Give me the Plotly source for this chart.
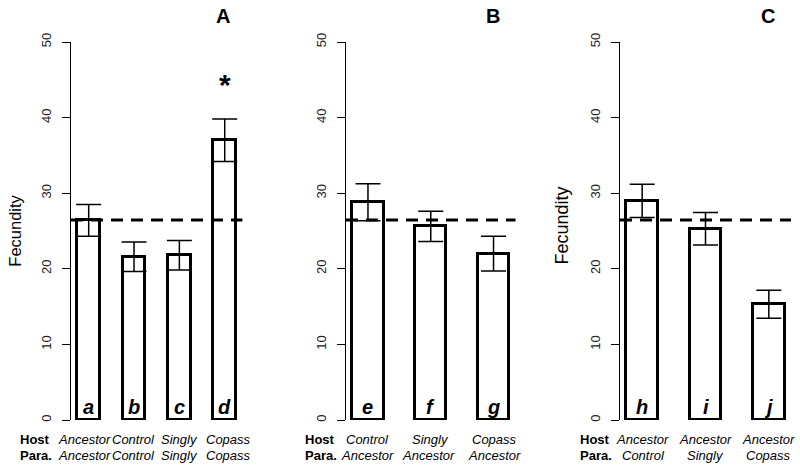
import plotly.graph_objects as go

FONT = "Liberation Sans, Arial, sans-serif"
W, H = 800, 467

# ---- data ----
panels = ["A", "B", "C"]
letters_A = ["a", "b", "c", "d"]
letters_B = ["e", "f", "g"]
letters_C = ["h", "i", "j"]
mean_A = [26.4, 21.6, 21.8, 37.0]
se_A = [2.1, 1.95, 1.95, 2.8]
mean_B = [28.8, 25.6, 22.0]
se_B = [2.45, 2.0, 2.3]
mean_C = [29.0, 25.3, 15.3]
se_C = [2.2, 2.15, 1.85]
host_A = ["Ancestor", "Control", "Singly", "Copass"]
para_A = ["Ancestor", "Control", "Singly", "Copass"]
host_B = ["Control", "Singly", "Copass"]
para_B = ["Ancestor", "Ancestor", "Ancestor"]
host_C = ["Ancestor", "Ancestor", "Ancestor"]
para_C = ["Control", "Singly", "Copass"]
ancestor_level = 26.45
y_ticks = [0, 10, 20, 30, 40, 50]
signif_A = ["", "", "", "*"]

# ---- layout geometry (pixels) ----
def px(x):
    return x / W

def py(y):
    return (H - y) / H

ydom = [py(420), py(42)]
xdoms = [[px(71), px(242.4)], [px(346), px(515.5)], [px(620), px(791)]]
xranges = [[0.72, 8.28], [0.8, 6.2], [0.8, 6.2]]

means = [mean_A, mean_B, mean_C]
ses = [se_A, se_B, se_C]
letters = [letters_A, letters_B, letters_C]
hosts = [host_A, host_B, host_C]
paras = [para_A, para_B, para_C]
host_px = [[84, 133, 179.5, 228.5], [367.5, 431, 494], [642, 705.3, 768]]
para_px = [[84, 133, 179.5, 228.5], [367.5, 428, 494], [643, 705.5, 768]]
hostlab_px = [35, 320, 595]
title_px = [223, 493, 768]
fec_px = [(15, 230.7, 16.5), None, (561.5, 226, 18)]


def txt(x, y, text, size, xref="paper", yref="paper", angle=0):
    return dict(x=x, y=y, xref=xref, yref=yref, text=text, showarrow=False,
                xanchor="center", yanchor="middle", textangle=angle,
                font=dict(family=FONT, size=size, color="black"))


fig = go.Figure()
annotations = []
shapes = []

for k in range(3):
    xa = "x" if k == 0 else f"x{k+1}"
    ya = "y" if k == 0 else f"y{k+1}"
    xs = [1.5 + 2 * i for i in range(len(means[k]))]
    fig.add_trace(go.Bar(
        x=xs, y=means[k], width=1, xaxis=xa, yaxis=ya,
        marker=dict(color="white", line=dict(color="black", width=3)),
        error_y=dict(type="data", array=ses[k], symmetric=True,
                     color="black", thickness=1.5, width=12.5),
        showlegend=False, hoverinfo="y",
    ))
    shapes.append(dict(type="line", xref=f"{xa} domain", yref=ya,
                       x0=0, x1=1, y0=ancestor_level, y1=ancestor_level,
                       line=dict(color="black", width=3, dash="12px,8px"),
                       layer="above"))
    for xv, lt in zip(xs, letters[k]):
        annotations.append(txt(xv, 1.7, f"<b><i>{lt}</i></b>", 20, xref=xa, yref=ya))
    for hp, t in zip(host_px[k], hosts[k]):
        annotations.append(txt(px(hp), py(439.5), f"<i>{t}</i>", 13))
    for pp, t in zip(para_px[k], paras[k]):
        annotations.append(txt(px(pp), py(455.5), f"<i>{t}</i>", 13))
    annotations.append(txt(px(hostlab_px[k]), py(439.5), "<b>Host</b>", 13))
    annotations.append(txt(px(hostlab_px[k] + 1), py(455.5), "<b>Para.</b>", 13))
    annotations.append(txt(px(title_px[k]), py(15.5), f"<b>{panels[k]}</b>", 20))
    if fec_px[k] is not None:
        fx, fy, fs = fec_px[k]
        annotations.append(txt(px(fx), py(fy), "Fecundity", fs, angle=-90))

    ax_x = dict(domain=xdoms[k], range=xranges[k], visible=False, anchor=ya,
                automargin=False, fixedrange=True)
    ax_y = dict(domain=ydom, range=[0, 50], anchor=xa, showline=True, linecolor="black",
                linewidth=1.3, ticks="outside", ticklen=8, tickwidth=1.3, tickcolor="black",
                tickvals=y_ticks, tickangle=-90, showgrid=False, zeroline=False,
                automargin=False, fixedrange=True,
                tickfont=dict(family=FONT, size=13, color="#222"), ticklabelstandoff=6)
    fig.update_layout(**{("xaxis" if k == 0 else f"xaxis{k+1}"): ax_x,
                         ("yaxis" if k == 0 else f"yaxis{k+1}"): ax_y})

xsA = [1.5 + 2 * i for i in range(len(mean_A))]
for xv, s in zip(xsA, signif_A):
    if s:
        annotations.append(txt(xv, 44.4, f"<b>{s}</b>", 30, xref="x", yref="y"))

fig.update_layout(template="none", width=W, height=H, autosize=False,
                  margin=dict(l=0, r=0, t=0, b=0, pad=0),
                  plot_bgcolor="white", paper_bgcolor="white",
                  annotations=annotations, shapes=shapes, bargap=0)
fig.write_html("out.html", config={"displayModeBar": False},
               post_script="document.body.style.margin='0';document.body.style.padding='0';")
